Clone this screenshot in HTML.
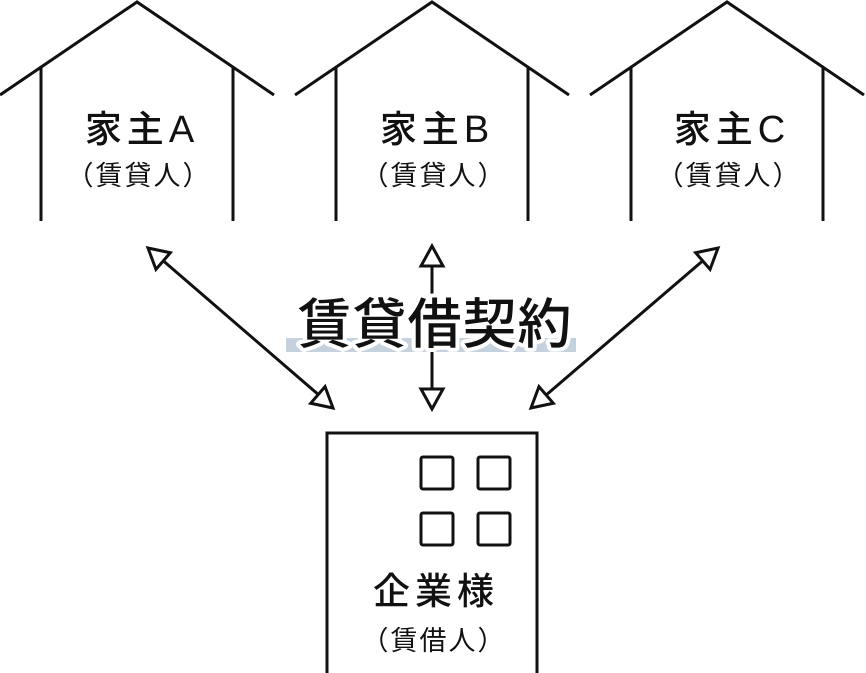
<!DOCTYPE html>
<html><head><meta charset="utf-8"><style>
html,body{margin:0;padding:0;background:#fff;}
svg{display:block;}
text{font-family:"Liberation Sans","Noto Sans CJK JP",sans-serif;fill:#111;}
</style></head><body>
<svg width="866" height="673" viewBox="0 0 866 673" xmlns="http://www.w3.org/2000/svg">
<g fill="none" stroke="#111" stroke-width="3">
  <g id="h">
    <polyline points="0,95 137,2 274,95"/>
    <line x1="41" y1="67" x2="41" y2="221"/>
    <line x1="233" y1="67" x2="233" y2="221"/>
  </g>
  <use href="#h" x="295"/>
  <use href="#h" x="590"/>
  <polyline points="327,673 327,433 537,433 537,673"/>
  <rect x="421" y="457" width="32" height="32" rx="2"/>
  <rect x="478" y="457" width="32" height="32" rx="2"/>
  <rect x="421" y="513" width="32" height="32" rx="2"/>
  <rect x="478" y="513" width="32" height="32" rx="2"/>
</g>
<g font-size="37" text-anchor="middle" letter-spacing="5" font-weight="500">
  <text x="142" y="142">家主<tspan font-size="38">A</tspan></text>
  <text x="437" y="142">家主<tspan font-size="38">B</tspan></text>
  <text x="732" y="142">家主<tspan font-size="38">C</tspan></text>
  <text x="436" y="604">企業様</text>
</g>
<g font-size="27" text-anchor="middle" letter-spacing="2">
  <text x="139" y="185">（賃貸人）</text>
  <text x="434" y="185">（賃貸人）</text>
  <text x="729" y="185">（賃貸人）</text>
  <text x="434" y="650">（賃借人）</text>
</g>
<g fill="#fff" stroke="#111" stroke-width="3" stroke-linejoin="miter">
  <line x1="160" y1="258" x2="320" y2="396"/>
  <line x1="706" y1="258" x2="545" y2="396"/>
  <line x1="432" y1="264" x2="432" y2="392"/>
  <polygon points="432,246 421,266 443,266"/>
  <polygon points="432,409 421,389 443,389"/>
  <g transform="translate(148,248) rotate(40.8)"><polygon points="0,0 20,-11 20,11"/></g>
  <g transform="translate(333,408) rotate(220.8)"><polygon points="0,0 20,-11 20,11"/></g>
  <g transform="translate(718,248) rotate(139.2)"><polygon points="0,0 20,-11 20,11"/></g>
  <g transform="translate(531,408) rotate(-40.8)"><polygon points="0,0 20,-11 20,11"/></g>
</g>
<rect x="286" y="338" width="290" height="14" fill="#c5d1dc"/>
<text x="435" y="343" font-size="54" font-weight="500" text-anchor="middle" stroke="#fff" stroke-width="8" stroke-linejoin="round" style="paint-order:stroke" letter-spacing="1">賃貸借契約</text>
</svg>
</body></html>
